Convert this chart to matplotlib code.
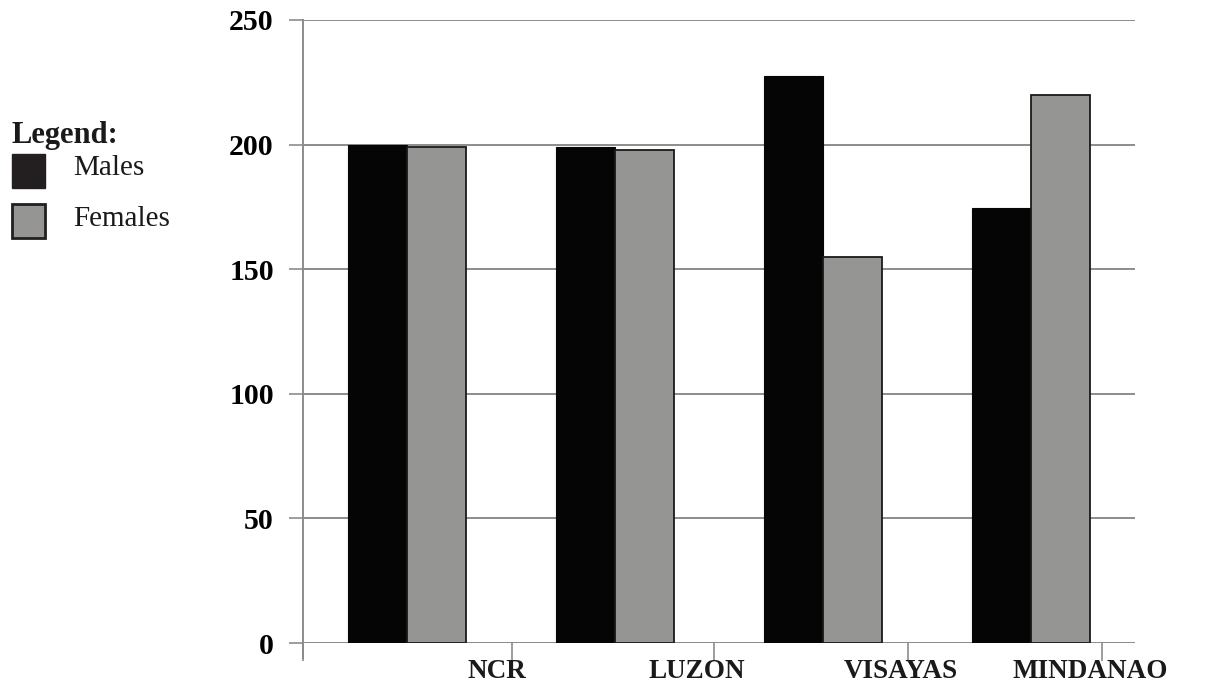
import matplotlib
matplotlib.use("Agg")
import matplotlib.pyplot as plt
from matplotlib.patches import Rectangle
import numpy as np

# ── Data ──────────────────────────────────────────────────────────────
regions = ["NCR", "LUZON", "VISAYAS", "MINDANAO"]
males   = [200, 199, 227.5, 174.5]
females = [199, 198, 155, 220]
yticks  = [0, 50, 100, 150, 200, 250]

# ── Style ─────────────────────────────────────────────────────────────
plt.rcParams.update({
    "font.family": ["Liberation Serif", "DejaVu Serif"],
    "text.color": "#1a1a1a",
})
GRID = "#8c8c8c"
MALE = "#050505"
FEMALE = "#959593"

fig = plt.figure(figsize=(12.11, 6.91), dpi=100)
ax = fig.add_axes([303 / 1211, 48 / 691, 832 / 1211, 623 / 691])

x = np.arange(len(regions))
w = 0.285
ax.bar(x - w / 2, males, w, color=MALE, edgecolor=MALE, linewidth=0.8, zorder=3)
ax.bar(x + w / 2, females, w, color=FEMALE, edgecolor="#1a1a1a", linewidth=1.3, zorder=3)

ax.set_xlim(-0.5, len(regions) - 0.5)
ax.set_ylim(0, 250)

# horizontal grid, no frame except the left axis line
ax.set_yticks(yticks)
ax.set_yticklabels([str(v) for v in yticks], fontsize=21.5, fontweight="bold")
ax.yaxis.grid(True, color=GRID, linewidth=1.4, zorder=0)
ax.tick_params(axis="y", length=10, width=1.2, color=GRID, pad=11)
for s in ["top", "right", "bottom"]:
    ax.spines[s].set_visible(False)
ax.spines["left"].set_color(GRID)
ax.spines["left"].set_linewidth(1.4)
ax.spines["left"].set_bounds(-6, 250)
ax.axhline(0, color=GRID, linewidth=1.4, zorder=1)

# category ticks sit to the right of each group, labels below them
tick_off = [0.505, 0.476, 0.41, 0.34]
label_off = [0.433, 0.394, 0.375, 0.284]
ax.set_xticks([-0.5] + [i + o for i, o in zip(x, tick_off)])
ax.set_xticklabels([""] * (len(regions) + 1))
ax.tick_params(axis="x", length=13, width=1.2, color=GRID)
for i, o, name in zip(x, label_off, regions):
    ax.text(i + o, -0.045, name, transform=ax.get_xaxis_transform(),
            ha="center", va="center", fontsize=19.5, fontweight="bold", clip_on=False)

# ── Legend box on the left ────────────────────────────────────────────
fig.text(12 / 1211, 1 - 135 / 691, "Legend:", fontsize=22, fontweight="bold",
         ha="left", va="center")
fig.patches.append(Rectangle((12 / 1211, 1 - 188 / 691), 33 / 1211, 34 / 691,
                             transform=fig.transFigure, facecolor="#231f20",
                             edgecolor="#231f20", linewidth=1))
fig.patches.append(Rectangle((12 / 1211, 1 - 238 / 691), 33 / 1211, 34 / 691,
                             transform=fig.transFigure, facecolor=FEMALE,
                             edgecolor="#231f20", linewidth=2))
fig.text(73 / 1211, 1 - 168 / 691, "Males", fontsize=21, ha="left", va="center")
fig.text(73 / 1211, 1 - 219 / 691, "Females", fontsize=21, ha="left", va="center")

fig.savefig("out.png", dpi=100, facecolor="white")
